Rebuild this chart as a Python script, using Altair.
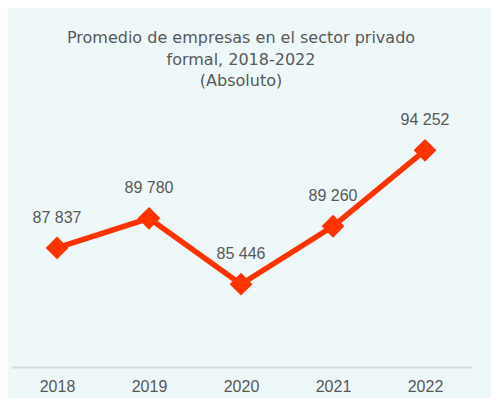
import altair as alt
import pandas as pd

years = ["2018", "2019", "2020", "2021", "2022"]
values = [87837, 89780, 85446, 89260, 94252]
labels = ["87 837", "89 780", "85 446", "89 260", "94 252"]

df = pd.DataFrame({"year": years, "value": values, "label": labels})

TXT = "#595959"
RED = "#ff3300"
FONT = "Liberation Sans"

base = alt.Chart(df).encode(
    x=alt.X("year:O", title=None,
            axis=alt.Axis(labelAngle=0, ticks=False, domainColor="#d9d9d9", domainWidth=2,
                          labelColor=TXT, labelFontSize=16, labelFont=FONT, labelPadding=11,
                          grid=False)),
    y=alt.Y("value:Q", scale=alt.Scale(domain=[80000, 100000], zero=False, nice=False), axis=None),
)

line = base.mark_line(color=RED, strokeWidth=5.5)
pts = base.mark_point(shape="diamond", size=520, filled=True, color=RED, opacity=1)
txt = base.mark_text(dy=-30, fontSize=16, font=FONT, color=TXT).encode(text="label:N")

chart = alt.layer(line, pts, txt).properties(
    width=460, height=304,
    title=alt.Title(["Promedio de empresas en el sector privado", "formal, 2018-2022", "(Absoluto)"],
                    fontSize=16, font="DejaVu Sans", color=TXT, fontWeight="normal", anchor="middle",
                    lineHeight=21.5, offset=-26),
    autosize=alt.AutoSizeParams(type="none"),
    padding={"left": 3, "top": 55, "right": 20, "bottom": 31},
    background="#eef8f9",
).configure_view(stroke=None)

chart.save("out.html", embed_options={"renderer": "svg", "actions": False})
